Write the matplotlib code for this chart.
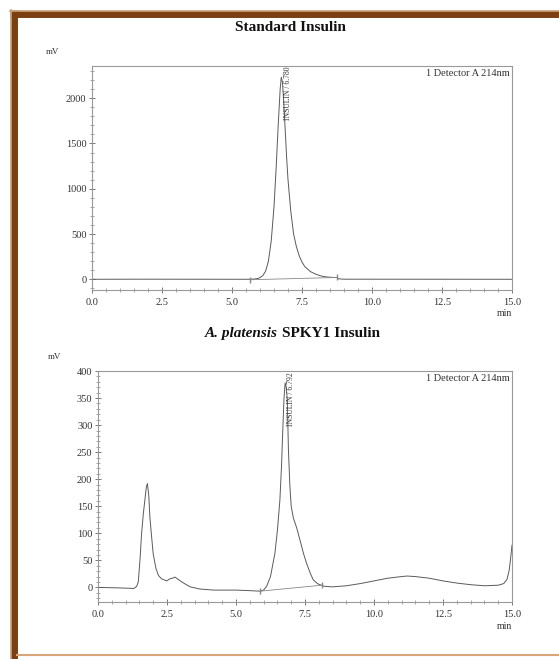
import matplotlib.pyplot as plt
from matplotlib.lines import Line2D
from matplotlib.ticker import MultipleLocator

plt.rcParams["font.family"] = ["Liberation Serif", "DejaVu Serif"]

# Standard insulin trace (min, mV)
std_t = [0.0, 1.7, 5.6, 5.8, 5.95, 6.1, 6.2, 6.3, 6.4, 6.5, 6.58, 6.65, 6.72, 6.76,
         6.8, 6.85, 6.9, 6.95, 7.0, 7.1, 7.2, 7.3, 7.4, 7.5, 7.6, 7.8, 8.0, 8.2,
         8.4, 8.6, 8.75, 8.8, 9.0, 15.0]
std_v = [0, 1, 0, 3, 10, 40, 90, 200, 420, 800, 1250, 1700, 2100, 2232,
         2180, 1950, 1650, 1350, 1100, 750, 500, 360, 260, 190, 140, 85, 55, 35,
         25, 20, 20, 5, 1, 0]
std_base_t = [5.65, 8.75]
std_base_v = [-5, 20]

# A. platensis SPKY1 trace (min, mV)
spk_t = [0.0, 0.8, 1.3, 1.4, 1.46, 1.52, 1.58, 1.64, 1.7, 1.75, 1.79, 1.84, 1.88,
         1.94, 2.0, 2.1, 2.19, 2.3, 2.49, 2.61, 2.7, 2.79, 2.9, 3.04, 3.2, 3.34,
         3.69, 4.2, 5.0, 5.5, 5.87, 6.0, 6.11, 6.25, 6.41, 6.5, 6.59, 6.65, 6.69,
         6.74, 6.78, 6.82, 6.86, 6.9, 6.95, 7.0, 7.08, 7.2, 7.32, 7.45, 7.56,
         7.7, 7.8, 7.95, 8.04, 8.2, 8.5, 9.0, 9.5, 10.0, 10.5, 11.0, 11.2, 11.5,
         12.0, 12.5, 13.0, 13.5, 14.0, 14.5, 14.7, 14.82, 14.9, 14.96, 15.0]
spk_v = [0, -1, -2, 2, 10, 50, 100, 135, 162, 185, 192, 170, 130,
         95, 62, 35, 22, 16, 12, 16, 17, 19, 15, 10, 5, 1,
         -3, -5, -5, -6, -7, -5, 2, 20, 63, 105, 161, 225, 284,
         350, 378, 370, 346, 254, 190, 150, 128, 110, 87, 62, 44,
         25, 14, 7, 5, 2, 1, 3, 7, 12, 17, 20, 21, 20,
         17, 12, 8, 5, 3, 4, 7, 15, 32, 58, 78]
spk_base_t = [5.87, 8.1]
spk_base_v = [-7, 4]

line_col = "#5a5a5a"
text_col = "#333333"

fig = plt.figure(figsize=(5.59, 6.59), dpi=100)
fig.patch.set_facecolor("white")


def style_axes(ax, ymin, ymax, ymajor, yminor):
    ax.set_xlim(0, 15)
    ax.set_ylim(ymin, ymax)
    ax.xaxis.set_major_locator(MultipleLocator(2.5))
    ax.xaxis.set_minor_locator(MultipleLocator(0.5))
    ax.yaxis.set_major_locator(MultipleLocator(ymajor))
    ax.yaxis.set_minor_locator(MultipleLocator(yminor))
    ax.xaxis.set_major_formatter(plt.FuncFormatter(lambda v, p: f"{v:.1f}"))
    for s in ax.spines.values():
        s.set_color("#999999")
        s.set_linewidth(0.8)
    ax.tick_params(axis="both", which="major", labelsize=7.5, colors="#777777",
                   labelcolor=text_col, length=4, width=0.7, direction="inout")
    ax.tick_params(axis="both", which="minor", colors="#999999", length=2.5,
                   width=0.6, direction="inout")
    ax.tick_params(axis="x", which="major", pad=4)
    ax.tick_params(axis="y", which="major", pad=2)
    ax.text(1.0, -0.085, "min", transform=ax.transAxes, ha="right", va="top",
            fontsize=7, color=text_col)
    ax.text(0.995, 0.985, "1 Detector A 214nm", transform=ax.transAxes,
            ha="right", va="top", fontsize=7.5, color=text_col)


# top panel
ax1 = fig.add_axes([0.1646, 0.56, 0.7513, 0.34])
ax1.plot(std_t, std_v, color=line_col, lw=0.7)
ax1.plot(std_base_t, std_base_v, color="#888888", lw=0.6, marker="|", ms=4)
style_axes(ax1, -118, 2357, 500, 100)
ax1.text(7.0, 2345, "INSULIN / 6.780", rotation=90, ha="center", va="top",
         fontsize=5.5, color=text_col)
fig.text(0.519, 0.959, "Standard Insulin", ha="center", va="center",
         fontsize=11, fontweight="bold", color="#111111")
fig.text(0.093, 0.921, "mV", ha="center", va="center", fontsize=6.5, color=text_col)

# bottom panel
ax2 = fig.add_axes([0.1753, 0.0865, 0.7406, 0.3505])
ax2.plot(spk_t, spk_v, color=line_col, lw=0.7)
ax2.plot(spk_base_t, spk_base_v, color="#888888", lw=0.6, marker="|", ms=4)
style_axes(ax2, -27, 400, 50, 10)
ax2.text(6.98, 397, "INSULIN / 6.792", rotation=90, ha="center", va="top",
         fontsize=5.5, color=text_col)
fig.text(0.497, 0.494, "A. platensis", ha="right", va="center", fontsize=11,
         fontweight="bold", fontstyle="italic", color="#111111")
fig.text(0.505, 0.494, "SPKY1 Insulin", ha="left", va="center", fontsize=11,
         fontweight="bold", color="#111111")
fig.text(0.098, 0.458, "mV", ha="center", va="center", fontsize=6.5, color=text_col)

# brown picture frame
W, H = 559.0, 659.0
fig.add_artist(Line2D([13.5 / W, 13.5 / W], [0, 1 - 10 / H], color="#7b3f12",
                      lw=5, transform=fig.transFigure, solid_capstyle="butt"))
fig.add_artist(Line2D([10 / W, 1], [1 - 13.5 / H, 1 - 13.5 / H], color="#7b3f12",
                      lw=5, transform=fig.transFigure, solid_capstyle="butt"))
fig.add_artist(Line2D([10.5 / W, 10.5 / W], [0, 1 - 10 / H], color="#c9a27a",
                      lw=1.2, transform=fig.transFigure))
fig.add_artist(Line2D([10 / W, 1], [1 - 10.5 / H, 1 - 10.5 / H], color="#c9a27a",
                      lw=1.2, transform=fig.transFigure))
fig.add_artist(Line2D([17 / W, 1], [1 - 654.5 / H, 1 - 654.5 / H], color="#d8a679",
                      lw=1.5, transform=fig.transFigure))

fig.savefig("out.png", dpi=100)
